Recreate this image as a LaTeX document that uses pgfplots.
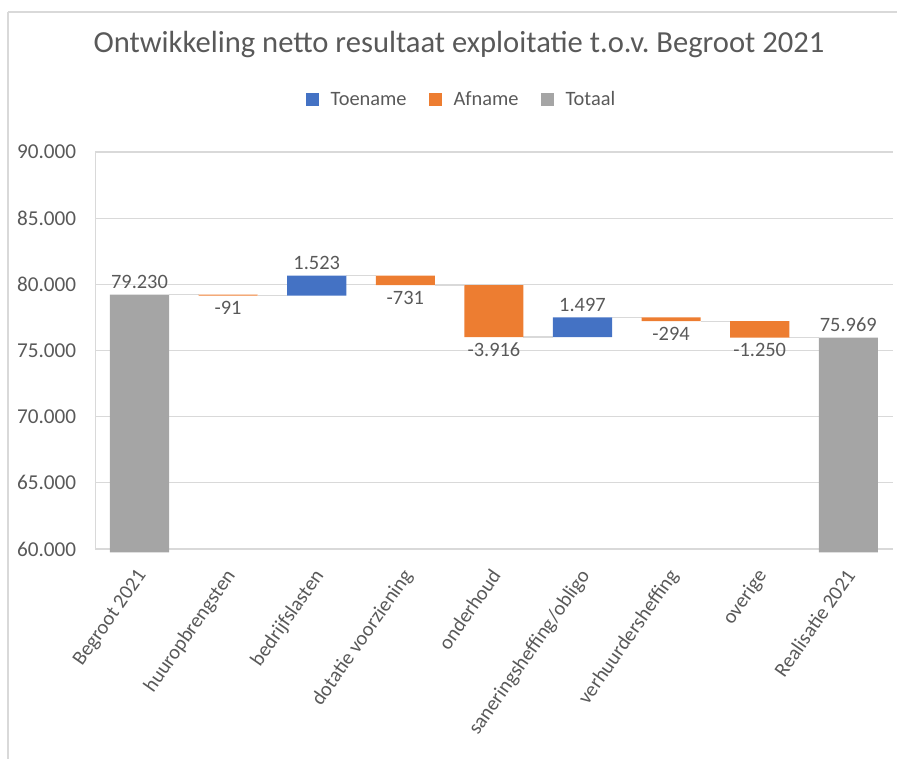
\documentclass[border=0pt]{standalone}
\usepackage{pgfplots}
\pgfplotsset{compat=1.18}
\usepackage{pgfplotstable}
\usepackage{fontspec}
\setmainfont{Carlito}
\definecolor{toe}{HTML}{4472C4}
\definecolor{af}{HTML}{ED7D31}
\definecolor{tot}{HTML}{A5A5A5}
\definecolor{txt}{HTML}{595959}
\definecolor{gridc}{HTML}{D9D9D9}
\pgfplotsset{sqleg/.style={legend image code/.code={\fill[##1] (0pt,-3.25pt) rectangle (6.5pt,3.25pt);}}}
\tikzset{conn/.style={gridc, line width=0.6pt},
  lab/.style={text=txt, font=\fontsize{10.2}{12}\selectfont, inner sep=2.8pt}}

% base = invisible offset; toe = Toename; af = Afname; tot = Totaal
\pgfplotstableread{
x base toe af tot
0 59750 0 0 19480
1 79139 0 91 0
2 79139 1523 0 0
3 79931 0 731 0
4 76015 0 3916 0
5 76015 1497 0 0
6 77218 0 294 0
7 75968 0 1250 0
8 59750 0 0 16219
}\wf

\begin{document}
\begin{tikzpicture}
\useasboundingbox (0pt,0pt) rectangle (448.5pt,379.5pt);
\draw[gridc, line width=0.6pt] (4pt,373.5pt) -- (448.5pt,373.5pt);
\draw[gridc, line width=0.6pt] (4pt,373.5pt) -- (4pt,0pt);
\node[anchor=base, text=txt, font=\fontsize{15.3}{18}\selectfont] at (229.5pt,353pt) {Ontwikkeling netto resultaat exploitatie t.o.v.\ Begroot 2021};
\begin{axis}[
  at={(47.6pt,105pt)}, anchor=south west,
  scale only axis, width=398.7pt, height=198.5pt,
  ybar stacked, bar width=0.667,
  xmin=-0.5, xmax=8.5, ymin=60000, ymax=90000,
  ytick={60000,65000,70000,75000,80000,85000,90000},
  xtick={0,...,8},
  xticklabels={Begroot 2021, huuropbrengsten, bedrijfslasten, dotatie voorziening, onderhoud, saneringsheffing/obligo, verhuurdersheffing, overige, Realisatie 2021},
  scaled y ticks=false,
  /pgf/number format/fixed,
  /pgf/number format/1000 sep={.},
  /pgf/number format/assume math mode=true,
  ticklabel style={text=txt},
  yticklabel style={font=\fontsize{10.6}{12}\selectfont, xshift=-6pt},
  xticklabel style={font=\fontsize{10.2}{12}\selectfont, xshift=-2pt, yshift=-9pt, rotate=55, anchor=north east, inner sep=0pt},
  ymajorgrids, grid style={gridc, line width=0.6pt},
  axis lines*=left, axis line style={gridc, line width=0.6pt, -},
  major tick length=0pt,
  clip=false,
  legend style={at={(0.4606,1.131)}, anchor=center, draw=none, fill=none,
    font=\fontsize{10.2}{12}\selectfont, text=txt, legend columns=3,
    /tikz/every odd column/.append style={column sep=4pt},
    /tikz/every even column/.append style={column sep=9pt}},
]
\addplot[draw=none, fill=none, forget plot] table[x=x,y=base]{\wf};
\addplot[fill=toe, draw=none, sqleg] table[x=x,y=toe]{\wf};
\addlegendentry{Toename}
\addplot[fill=af, draw=none, sqleg] table[x=x,y=af]{\wf};
\addlegendentry{Afname}
\addplot[fill=tot, draw=none, sqleg] table[x=x,y=tot]{\wf};
\addlegendentry{Totaal}

\draw[conn] (axis cs:0.333,79230) -- (axis cs:0.667,79230);
\draw[conn] (axis cs:1.333,79139) -- (axis cs:1.667,79139);
\draw[conn] (axis cs:2.333,80662) -- (axis cs:2.667,80662);
\draw[conn] (axis cs:3.333,79931) -- (axis cs:3.667,79931);
\draw[conn] (axis cs:4.333,76015) -- (axis cs:4.667,76015);
\draw[conn] (axis cs:5.333,77512) -- (axis cs:5.667,77512);
\draw[conn] (axis cs:6.333,77218) -- (axis cs:6.667,77218);
\draw[conn] (axis cs:7.333,75968) -- (axis cs:7.667,75968);

\node[lab, anchor=south] at (axis cs:0,79230) {79.230};
\node[lab, anchor=north] at (axis cs:1,79139) {-91};
\node[lab, anchor=south] at (axis cs:2,80662) {1.523};
\node[lab, anchor=north] at (axis cs:3,79931) {-731};
\node[lab, anchor=north] at (axis cs:4,76015) {-3.916};
\node[lab, anchor=south] at (axis cs:5,77512) {1.497};
\node[lab, anchor=north] at (axis cs:6,77218) {-294};
\node[lab, anchor=north] at (axis cs:7,75968) {-1.250};
\node[lab, anchor=south] at (axis cs:8,75969) {75.969};
\end{axis}
\end{tikzpicture}
\end{document}
